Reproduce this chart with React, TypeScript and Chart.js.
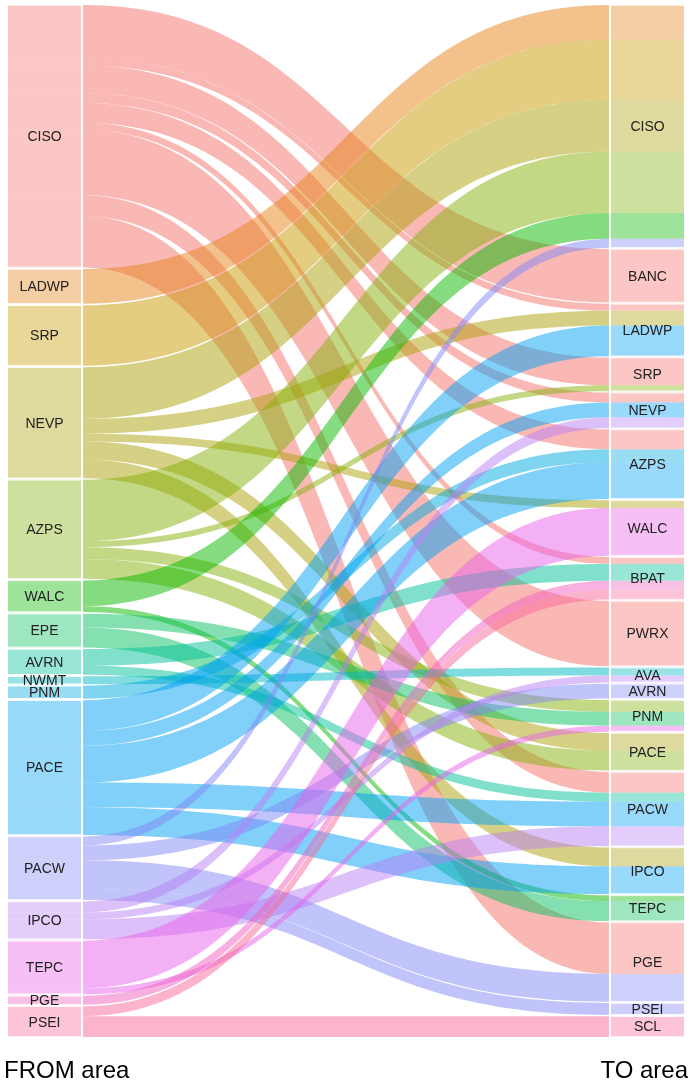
import React, { useEffect, useRef } from "react";
import { Chart, registerables } from "chart.js";

Chart.register(...registerables);

// ---- data ----
const fromAreas = ["CISO", "LADWP", "SRP", "NEVP", "AZPS", "WALC", "EPE", "AVRN", "NWMT", "PNM", "PACE", "PACW", "IPCO", "TEPC", "PGE", "PSEI"];
const toAreas = ["CISO", "BANC", "LADWP", "SRP", "NEVP", "AZPS", "WALC", "BPAT", "PWRX", "AVA", "AVRN", "PNM", "PACE", "PACW", "IPCO", "TEPC", "PGE", "PSEI", "SCL"];

const flowFrom = [
  "CISO", "CISO", "CISO", "CISO", "CISO", "CISO", "CISO", "CISO", "CISO",
  "LADWP",
  "SRP",
  "NEVP", "NEVP", "NEVP", "NEVP", "NEVP",
  "AZPS", "AZPS", "AZPS", "AZPS",
  "WALC", "WALC",
  "EPE", "EPE",
  "AVRN", "AVRN",
  "NWMT",
  "PNM",
  "PACE", "PACE", "PACE", "PACE", "PACE",
  "PACW", "PACW", "PACW", "PACW",
  "IPCO", "IPCO", "IPCO",
  "TEPC", "TEPC",
  "PGE",
  "PSEI", "PSEI",
];
const flowTo = [
  "BANC", "LADWP", "SRP", "NEVP", "AZPS", "BPAT", "PWRX", "PACW", "PGE",
  "CISO",
  "CISO",
  "CISO", "LADWP", "WALC", "PACE", "IPCO",
  "CISO", "SRP", "PNM", "PACE",
  "CISO", "TEPC",
  "PNM", "TEPC",
  "BPAT", "PACW",
  "AVA",
  "AZPS",
  "LADWP", "NEVP", "AZPS", "PACW", "IPCO",
  "CISO", "AVRN", "PGE", "PSEI",
  "NEVP", "AVA", "PACW",
  "WALC", "PNM",
  "BPAT",
  "BPAT", "SCL",
];
const flowMW = [
  54, 7, 28, 10, 20, 7, 66, 21, 52,
  35,
  61,
  52, 15, 8, 18, 19,
  62, 6, 12, 20,
  26, 6,
  14, 20,
  17, 9,
  8,
  13,
  31, 15, 37, 25, 28,
  9, 15, 28, 12,
  11, 7, 20,
  48, 6,
  9,
  10, 21,
];

const areaColors = [
  [245, 113, 107], // CISO
  [231, 133, 25], // LADWP
  [201, 153, 1], // SRP
  [173, 161, 9], // NEVP
  [133, 177, 9], // AZPS
  [9, 185, 0], // WALC
  [9, 193, 97], // EPE
  [1, 193, 153], // AVRN
  [0, 185, 193], // NWMT
  [0, 169, 225], // PNM
  [1, 161, 245], // PACE
  [129, 137, 245], // PACW
  [185, 129, 245], // IPCO
  [233, 97, 233], // TEPC
  [241, 97, 193], // PGE
  [249, 105, 153], // PSEI
];

const FONT = '"Liberation Sans", Arial, Helvetica, sans-serif';

// layout (in value units / x-scale units)
const leftGap = 1.6;
const leftTotal = flowMW.reduce((a, b) => a + b, 0);
const yMax = leftTotal + leftGap * (fromAreas.length - 1);
const rightGap = (yMax - leftTotal) / (toAreas.length - 1);

type Seg = { from: number; to: number; v: number; y0s: number; y0e: number; y1s: number; y1e: number };

function buildLayout() {
  const links: Seg[] = flowMW.map((v, i) => ({
    from: fromAreas.indexOf(flowFrom[i]),
    to: toAreas.indexOf(flowTo[i]),
    v,
    y0s: 0, y0e: 0, y1s: 0, y1e: 0,
  }));
  const leftNodes: { y0: number; y1: number }[] = [];
  let y = 0;
  fromAreas.forEach((_, i) => {
    const outs = links.filter((l) => l.from === i).sort((a, b) => a.to - b.to);
    const start = y;
    outs.forEach((l) => {
      l.y0s = y;
      y += l.v;
      l.y0e = y;
    });
    leftNodes.push({ y0: start, y1: y });
    y += leftGap;
  });
  const rightNodes: { y0: number; y1: number }[] = [];
  y = 0;
  toAreas.forEach((_, i) => {
    const ins = links.filter((l) => l.to === i).sort((a, b) => a.from - b.from);
    const start = y;
    ins.forEach((l) => {
      l.y1s = y;
      y += l.v;
      l.y1e = y;
    });
    rightNodes.push({ y0: start, y1: y });
    y += rightGap;
  });
  return { links, leftNodes, rightNodes };
}

const rgba = (c: number[], a: number) => `rgba(${c[0]},${c[1]},${c[2]},${a})`;

const sankeyPlugin = {
  id: "sankeyFlows",
  afterDatasetsDraw(chart: any) {
    const { ctx, scales } = chart;
    const xs = scales.x;
    const ys = scales.y;
    const { links, leftNodes, rightNodes } = buildLayout();
    const nodeW = 0.108;
    const linkGap = 0.003;
    const xL0 = xs.getPixelForValue(0);
    const xL1 = xs.getPixelForValue(nodeW);
    const xF0 = xs.getPixelForValue(nodeW + linkGap);
    const xF1 = xs.getPixelForValue(1 - nodeW - linkGap);
    const xR0 = xs.getPixelForValue(1 - nodeW);
    const xR1 = xs.getPixelForValue(1);
    const xm = (xF0 + xF1) / 2;

    ctx.save();
    // flows
    links.forEach((l) => {
      const a = ys.getPixelForValue(l.y0s);
      const b = ys.getPixelForValue(l.y0e);
      const c = ys.getPixelForValue(l.y1s);
      const d = ys.getPixelForValue(l.y1e);
      ctx.beginPath();
      ctx.moveTo(xF0, a);
      ctx.bezierCurveTo(xm, a, xm, c, xF1, c);
      ctx.lineTo(xF1, d);
      ctx.bezierCurveTo(xm, d, xm, b, xF0, b);
      ctx.closePath();
      ctx.fillStyle = rgba(areaColors[l.from], 0.5);
      ctx.fill();
    });

    // node segments
    const inset = 0.8;
    links.forEach((l) => {
      const col = rgba(areaColors[l.from], 0.4);
      ctx.fillStyle = col;
      const a = ys.getPixelForValue(l.y0s);
      const b = ys.getPixelForValue(l.y0e);
      ctx.fillRect(xL0, a, xL1 - xL0, b - a);
      const c = ys.getPixelForValue(l.y1s);
      const d = ys.getPixelForValue(l.y1e);
      ctx.fillRect(xR0, c, xR1 - xR0, d - c);
    });
    // white separators between nodes
    ctx.fillStyle = "#ffffff";
    leftNodes.forEach((n) => {
      const t = ys.getPixelForValue(n.y0);
      const bt = ys.getPixelForValue(n.y1);
      ctx.fillRect(xL0, t - 0.1, xL1 - xL0, inset);
      ctx.fillRect(xL0, bt - inset + 0.1, xL1 - xL0, inset);
    });
    rightNodes.forEach((n) => {
      const t = ys.getPixelForValue(n.y0);
      const bt = ys.getPixelForValue(n.y1);
      ctx.fillRect(xR0, t - 0.1, xR1 - xR0, inset);
      ctx.fillRect(xR0, bt - inset + 0.1, xR1 - xR0, inset);
    });

    // labels
    ctx.fillStyle = "#222222";
    ctx.font = `14px ${FONT}`;
    ctx.textAlign = "center";
    ctx.textBaseline = "middle";
    leftNodes.forEach((n, i) => {
      const yc = (ys.getPixelForValue(n.y0) + ys.getPixelForValue(n.y1)) / 2;
      ctx.fillText(fromAreas[i], (xL0 + xL1) / 2, yc + 1);
    });
    rightNodes.forEach((n, i) => {
      const yc = (ys.getPixelForValue(n.y0) + ys.getPixelForValue(n.y1)) / 2;
      ctx.fillText(toAreas[i], (xR0 + xR1) / 2, yc + 1);
    });

    ctx.fillStyle = "#000000";
    ctx.font = `24px ${FONT}`;
    ctx.textBaseline = "alphabetic";
    ctx.textAlign = "left";
    ctx.fillText("FROM area", 4, 1078);
    ctx.textAlign = "right";
    ctx.fillText("TO area", 688, 1078);
    ctx.restore();
  },
};

export default function App() {
  const canvasRef = useRef<HTMLCanvasElement | null>(null);

  useEffect(() => {
    const canvas = canvasRef.current;
    if (!canvas) return;
    const chart = new Chart(canvas, {
      type: "scatter",
      data: { datasets: [{ data: [] }] },
      options: {
        animation: false,
        responsive: false,
        devicePixelRatio: 1,
        layout: { padding: { left: 8, right: 8, top: 5, bottom: 46 } },
        plugins: {
          legend: { display: false },
          tooltip: { enabled: false },
        },
        scales: {
          x: { type: "linear", min: 0, max: 1, display: false },
          y: { type: "linear", min: 0, max: yMax, reverse: true, display: false },
        },
      },
      plugins: [sankeyPlugin],
    } as any);
    return () => chart.destroy();
  }, []);

  return (
    <div style={{ position: "absolute", left: 0, top: 0, width: 692, height: 1083, background: "#ffffff" }}>
      <canvas ref={canvasRef} width={692} height={1083} style={{ width: 692, height: 1083, display: "block" }} />
    </div>
  );
}
